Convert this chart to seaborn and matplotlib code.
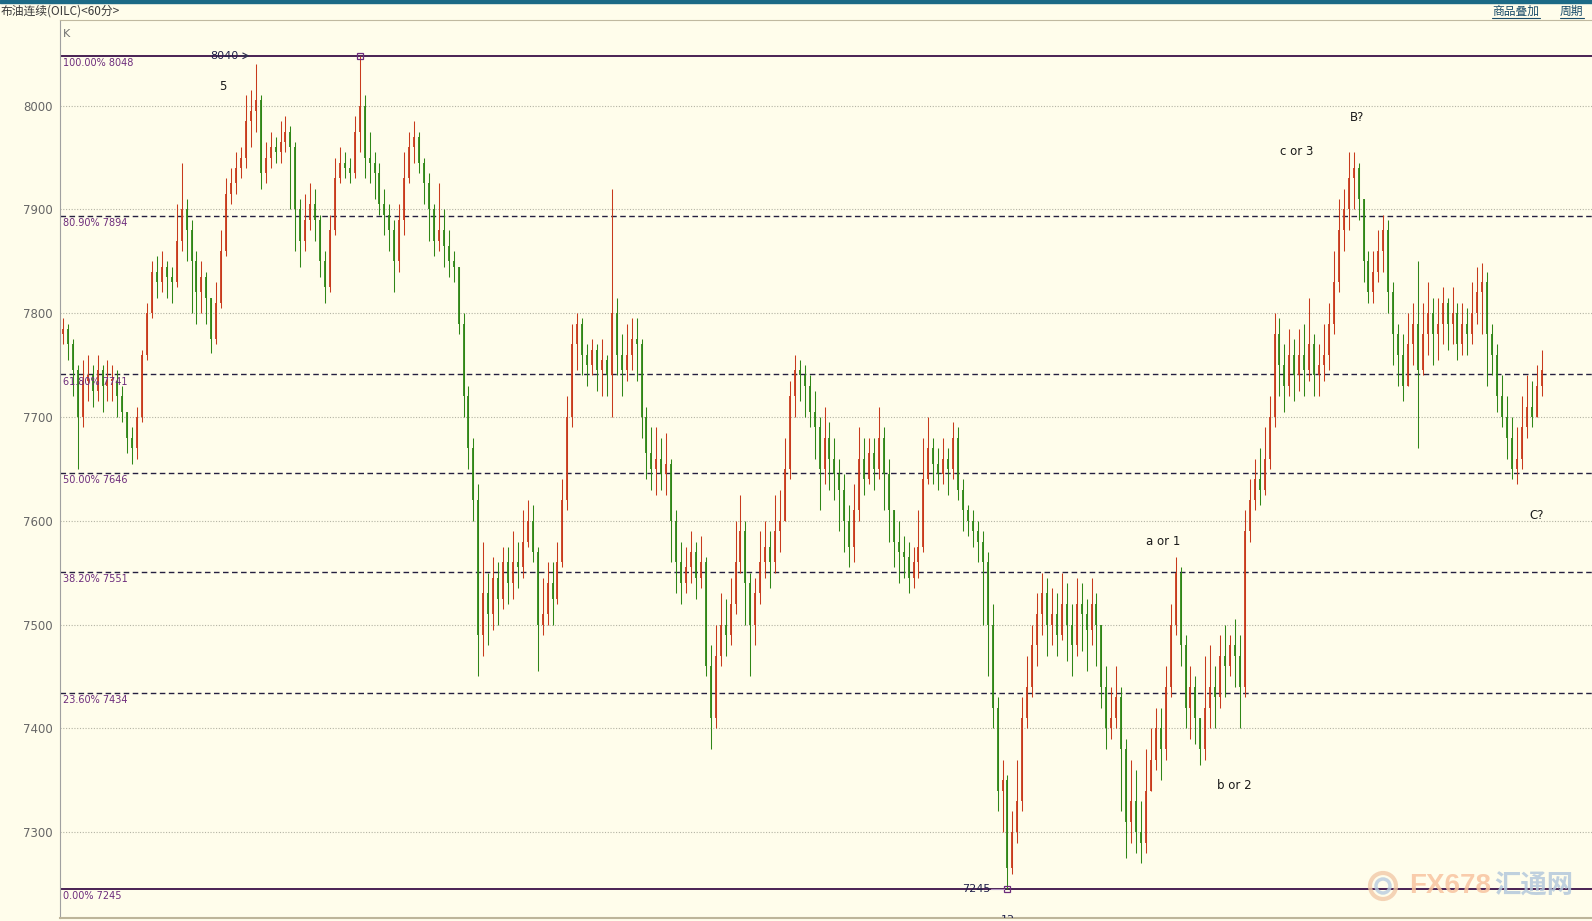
import numpy as np
import pandas as pd
import matplotlib
matplotlib.use("Agg")
import matplotlib.pyplot as plt
import matplotlib.patches as mpatches
import matplotlib.transforms as mtransforms
from matplotlib.lines import Line2D
import seaborn as sns

# Brent continuous, 60 minute bars (price x100)
first_open = 7780
closes = [
    7785, 7770, 7745, 7700, 7735, 7740, 7725, 7745, 7730, 7735,
    7735, 7720, 7705, 7680, 7670, 7700, 7760, 7800, 7840, 7830,
    7845, 7835, 7830, 7870, 7900, 7880, 7850, 7820, 7835, 7815,
    7775, 7810, 7860, 7915, 7925, 7940, 7950, 7985, 7995, 8005,
    7935, 7950, 7960, 7955, 7965, 7975, 7960, 7900, 7870, 7890,
    7905, 7890, 7850, 7825, 7880, 7930, 7945, 7940, 7935, 7975,
    8000, 7950, 7945, 7935, 7905, 7895, 7880, 7850, 7890, 7930,
    7960, 7970, 7945, 7925, 7900, 7870, 7880, 7865, 7850, 7845,
    7790, 7720, 7670, 7620, 7490, 7530, 7510, 7545, 7525, 7560,
    7540, 7560, 7555, 7580, 7600, 7570, 7500, 7510, 7540, 7525,
    7560, 7620, 7700, 7770, 7790, 7760, 7750, 7765, 7745, 7755,
    7740, 7800, 7760, 7745, 7760, 7775, 7770, 7700, 7665, 7650,
    7660, 7645, 7655, 7600, 7560, 7540, 7555, 7570, 7545, 7560,
    7460, 7410, 7470, 7500, 7490, 7520, 7560, 7590, 7540, 7500,
    7530, 7560, 7575, 7560, 7590, 7600, 7650, 7720, 7745, 7740,
    7730, 7705, 7690, 7650, 7680, 7660, 7645, 7630, 7600, 7575,
    7610, 7660, 7640, 7665, 7650, 7680, 7645, 7610, 7580, 7570,
    7565, 7545, 7560, 7575, 7640, 7670, 7655, 7645, 7660, 7650,
    7680, 7630, 7610, 7600, 7590, 7580, 7560, 7500, 7420, 7340,
    7350, 7265, 7300, 7330, 7410, 7440, 7480, 7510, 7530, 7500,
    7510, 7490, 7520, 7500, 7480, 7520, 7510, 7495, 7520, 7500,
    7440, 7400, 7410, 7430, 7380, 7310, 7330, 7300, 7290, 7340,
    7370, 7400, 7380, 7440, 7500, 7550, 7480, 7420, 7440, 7410,
    7380, 7420, 7440, 7430, 7470, 7460, 7480, 7470, 7440, 7590,
    7620, 7640, 7630, 7660, 7700, 7780, 7750, 7730, 7760, 7740,
    7760, 7745, 7770, 7740, 7750, 7760, 7790, 7830, 7880, 7900,
    7930, 7940, 7910, 7850, 7820, 7840, 7860, 7880, 7820, 7780,
    7760, 7730, 7770, 7790, 7745, 7780, 7800, 7780, 7790, 7810,
    7790, 7800, 7770, 7790, 7780, 7800, 7820, 7830, 7780, 7760,
    7720, 7700, 7680, 7650, 7660, 7690, 7710, 7700, 7730, 7745,
]
highs = [
    7795, 7790, 7775, 7750, 7755, 7760, 7750, 7760, 7750, 7755,
    7750, 7745, 7730, 7700, 7690, 7710, 7765, 7810, 7850, 7855,
    7860, 7850, 7845, 7905, 7945, 7910, 7890, 7860, 7850, 7840,
    7800, 7830, 7880, 7930, 7940, 7955, 7960, 8010, 8015, 8040,
    8010, 7965, 7975, 7970, 7985, 7990, 7980, 7965, 7910, 7915,
    7925, 7920, 7895, 7860, 7895, 7950, 7960, 7955, 7950, 7990,
    8048, 8010, 7975, 7955, 7945, 7920, 7905, 7890, 7905, 7955,
    7975, 7985, 7975, 7950, 7935, 7905, 7925, 7900, 7880, 7860,
    7845, 7800, 7730, 7680, 7635, 7580, 7550, 7565, 7560, 7575,
    7575, 7590, 7580, 7610, 7620, 7615, 7575, 7545, 7560, 7560,
    7580, 7640, 7720, 7790, 7800, 7795, 7770, 7775, 7770, 7775,
    7760, 7920, 7815, 7780, 7790, 7795, 7795, 7775, 7710, 7690,
    7690, 7680, 7685, 7660, 7610, 7580, 7575, 7590, 7580, 7585,
    7565, 7480, 7500, 7530, 7525, 7545, 7600, 7625, 7600, 7550,
    7545, 7590, 7600, 7590, 7625, 7630, 7680, 7735, 7760, 7755,
    7750, 7740, 7725, 7700, 7710, 7695, 7680, 7660, 7645, 7615,
    7635, 7690, 7680, 7680, 7680, 7710, 7690, 7660, 7610, 7600,
    7585, 7580, 7575, 7610, 7680, 7700, 7680, 7670, 7680, 7670,
    7695, 7690, 7640, 7615, 7610, 7600, 7590, 7570, 7520, 7430,
    7370, 7355, 7320, 7370, 7430, 7470, 7500, 7530, 7550, 7545,
    7535, 7530, 7550, 7540, 7520, 7545, 7540, 7525, 7545, 7530,
    7500, 7460, 7440, 7460, 7440, 7390, 7370, 7360, 7330, 7380,
    7400, 7420, 7420, 7460, 7520, 7565, 7555, 7490, 7460, 7450,
    7410, 7470, 7480, 7460, 7490, 7500, 7490, 7505, 7490, 7610,
    7640, 7660, 7670, 7690, 7720, 7800, 7795, 7770, 7785, 7775,
    7785, 7790, 7815, 7780, 7770, 7790, 7810, 7860, 7910, 7920,
    7955, 7955, 7945, 7905, 7860, 7860, 7880, 7895, 7890, 7830,
    7790, 7780, 7800, 7810, 7850, 7810, 7830, 7815, 7815, 7825,
    7815, 7825, 7810, 7810, 7805, 7830, 7845, 7848, 7840, 7790,
    7770, 7740, 7720, 7700, 7690, 7720, 7740, 7735, 7750, 7765,
]
lows = [
    7770, 7755, 7720, 7650, 7690, 7715, 7710, 7715, 7705, 7715,
    7715, 7700, 7695, 7665, 7655, 7660, 7695, 7755, 7795, 7815,
    7820, 7815, 7810, 7825, 7860, 7850, 7800, 7790, 7800, 7790,
    7762, 7770, 7805, 7855, 7905, 7915, 7930, 7940, 7960, 7975,
    7920, 7925, 7940, 7945, 7945, 7955, 7900, 7860, 7845, 7860,
    7880, 7870, 7835, 7810, 7820, 7875, 7925, 7930, 7925, 7930,
    7955, 7930, 7925, 7910, 7895, 7875, 7860, 7820, 7840, 7875,
    7925, 7945, 7935, 7905, 7870, 7855, 7860, 7845, 7835, 7830,
    7780, 7700, 7650, 7600, 7450, 7470, 7480, 7495, 7500, 7515,
    7520, 7525, 7535, 7545, 7575, 7560, 7455, 7490, 7500, 7500,
    7520, 7555, 7610, 7690, 7745, 7740, 7730, 7740, 7725, 7720,
    7720, 7700, 7740, 7720, 7735, 7745, 7735, 7680, 7640, 7630,
    7625, 7630, 7625, 7560, 7530, 7520, 7530, 7540, 7525, 7535,
    7450, 7380, 7400, 7460, 7470, 7480, 7510, 7550, 7500, 7450,
    7480, 7520, 7545, 7535, 7550, 7570, 7600, 7640, 7700, 7715,
    7700, 7690, 7660, 7610, 7635, 7630, 7620, 7590, 7570, 7555,
    7560, 7600, 7625, 7635, 7630, 7640, 7610, 7580, 7555, 7540,
    7545, 7530, 7535, 7545, 7570, 7635, 7635, 7630, 7635, 7625,
    7640, 7620, 7590, 7585, 7575, 7560, 7500, 7450, 7400, 7320,
    7300, 7245, 7260, 7290, 7320, 7400, 7430, 7460, 7490, 7470,
    7480, 7470, 7485, 7465, 7450, 7470, 7475, 7455, 7480, 7460,
    7420, 7380, 7390, 7400, 7320, 7275, 7290, 7280, 7270, 7280,
    7340, 7360, 7350, 7370, 7430, 7490, 7460, 7400, 7390, 7385,
    7365, 7370, 7400, 7400, 7420, 7430, 7450, 7440, 7400, 7430,
    7580, 7610, 7615, 7625, 7650, 7690, 7720, 7705, 7720, 7715,
    7725, 7720, 7735, 7720, 7720, 7735, 7745, 7780, 7820, 7860,
    7880, 7900, 7890, 7830, 7810, 7810, 7830, 7840, 7800, 7750,
    7730, 7715, 7735, 7750, 7670, 7740, 7760, 7750, 7755, 7770,
    7765, 7770, 7755, 7760, 7760, 7770, 7790, 7780, 7730, 7740,
    7705, 7690, 7660, 7640, 7635, 7650, 7680, 7690, 7700, 7720,
]

fib_pct = ["100.00%", "80.90%", "61.80%", "50.00%", "38.20%", "23.60%", "0.00%"]
fib_levels = [8048, 7894, 7741, 7646, 7551, 7434, 7245]
price_ticks = [7300, 7400, 7500, 7600, 7700, 7800, 7900, 8000]

wave_text = ["5", "c or 3", "B?", "a or 1", "b or 2", "C?"]
wave_bar = [32.4, 249.5, 261.7, 222.4, 236.8, 298.1]
wave_price = [8018, 7956, 7989, 7580, 7345, 7605]

peak_bar, peak_price = 60, 8048
trough_bar, trough_price = 191, 7245

# colours
BG = "#fffdeb"
UP = "#c83a1c"
DOWN = "#2f8616"
FIB_DASH = "#252040"
FIB_SOLID = "#3a1048"
FIB_TEXT = "#6d2c7c"

sns.set_style("white", rc={"axes.facecolor": BG, "figure.facecolor": BG})
plt.rcParams["font.family"] = ["DejaVu Sans"]
CJK = ["Noto Sans CJK SC", "DejaVu Sans"]

W, H = 1592, 921
fig = plt.figure(figsize=(W / 100, H / 100), dpi=100, facecolor=BG)
ax = fig.add_axes([60 / W, 3 / H, (W - 60) / W, (918 - 20) / H])
ax.set_facecolor(BG)

df = pd.DataFrame({"high": highs, "low": lows, "close": closes})
df["open"] = [first_open] + closes[:-1]
df["bar"] = np.arange(len(df))
up = df["close"] >= df["open"]
colors = np.where(up, UP, DOWN)
body_lo = np.minimum(df["open"], df["close"])
body_hi = np.maximum(np.maximum(df["open"], df["close"]), body_lo + 1.5)

# grid + fibonacci levels
for t in price_ticks:
    ax.axhline(t, color="#b4b4a4", lw=0.8, ls=(0, (1, 1.5)), zorder=1)

blend = mtransforms.blended_transform_factory(ax.transAxes, ax.transData)
for pct, lvl in zip(fib_pct, fib_levels):
    if pct in ("100.00%", "0.00%"):
        ax.axhline(lvl, color=FIB_SOLID, lw=1.3, zorder=2)
    else:
        ax.axhline(lvl, color=FIB_DASH, lw=1.0, ls=(0, (4, 2.5)), zorder=2)
    ax.annotate(f"{pct} {lvl}", xy=(0.002, lvl), xycoords=blend,
                xytext=(0, -1.5), textcoords="offset points",
                ha="left", va="top", fontsize=7, color=FIB_TEXT, zorder=5)

# bars
ax.vlines(df["bar"], np.minimum(df["low"], body_lo), np.maximum(df["high"], body_hi),
          colors=colors, lw=0.75, zorder=3)
ax.vlines(df["bar"], body_lo, body_hi, colors=colors, lw=1.3, zorder=3)

# peak / trough markers
ax.plot([peak_bar], [peak_price], marker="s", ms=4.5, mfc="none", mec=FIB_TEXT, mew=0.9, zorder=6)
ax.plot([trough_bar], [trough_price], marker="s", ms=4.5, mfc="none", mec=FIB_TEXT, mew=0.9, zorder=6)
ax.annotate("", xy=(38.3, 8048), xytext=(35.4, 8048),
            arrowprops=dict(arrowstyle="->", color="#303050", lw=0.8), zorder=6)
ax.text(35.4, 8048, "8040", ha="right", va="center", fontsize=8, color="#20204a", zorder=6)
ax.plot([187.6, 190.3], [trough_price, trough_price], color="#b090c0", lw=0.8, zorder=6)
ax.text(187.6, trough_price, "7245", ha="right", va="center", fontsize=8, color="#20204a", zorder=6)
ax.text(trough_bar, 7220.5, "12", ha="center", va="top", fontsize=8, color="#20204a", clip_on=True)

for txt, xb, yp in zip(wave_text, wave_bar, wave_price):
    ax.text(xb, yp, txt, ha="center", va="center", fontsize=8.5, color="#1a1a1a", zorder=6)

ax.text(0.002, 0.99, "K", transform=ax.transAxes, ha="left", va="top", fontsize=8, color="#707070")

ax.set_xlim(-0.6, 309.2)
ax.set_ylim(7217.3, 8082.5)
ax.set_yticks(price_ticks)
ax.set_xticks([])
ax.tick_params(axis="y", length=0, pad=5, labelsize=8.5, labelcolor="#666666")
ax.spines["right"].set_visible(False)
ax.spines["left"].set_color("#a0a0a0")
ax.spines["top"].set_color("#c0b9a0")
ax.spines["bottom"].set_color("#bdb59a")
ax.spines["bottom"].set_linewidth(1.5)

# header
fig.patches.append(mpatches.Rectangle((0, 1 - 3 / H), 1, 3 / H, transform=fig.transFigure,
                                      color="#1c6a86", zorder=10))
fig.text(1 / W, 1 - 11 / H, "布油连续(OILC)<60分>", family=CJK, fontsize=8.5,
         color="#3a3a3a", ha="left", va="center")
for label, x0, x1 in [("商品叠加", 1492, 1540), ("周期", 1560, 1584)]:
    fig.text(x0 / W, 1 - 11 / H, label, family=CJK, fontsize=8.5, color="#1a4d6a",
             ha="left", va="center")
    fig.add_artist(Line2D([x0 / W, x1 / W], [1 - 18 / H, 1 - 18 / H], color="#1a4d6a", lw=0.8))

# watermark
fig.patches.append(mpatches.Ellipse((1383 / W, 1 - 886 / H), 26 / W, 26 / H, transform=fig.transFigure,
                                    fill=False, ec="#f2c9a8", lw=3, alpha=0.8))
fig.patches.append(mpatches.Ellipse((1383 / W, 1 - 886 / H), 14 / W, 14 / H, transform=fig.transFigure,
                                    fill=False, ec="#b8cce0", lw=2.5, alpha=0.8))
fig.text(1409 / W, 1 - 886 / H, "FX678", fontsize=20, fontweight="bold", color="#f8c4a0",
         alpha=0.85, ha="left", va="center", family=["Liberation Sans", "DejaVu Sans"])
fig.text(1494 / W, 1 - 886 / H, "汇通网", fontsize=19, fontweight="bold", color="#b4c8dc",
         alpha=0.85, ha="left", va="center", family=CJK)

fig.savefig("out.png", dpi=100, facecolor=BG)
